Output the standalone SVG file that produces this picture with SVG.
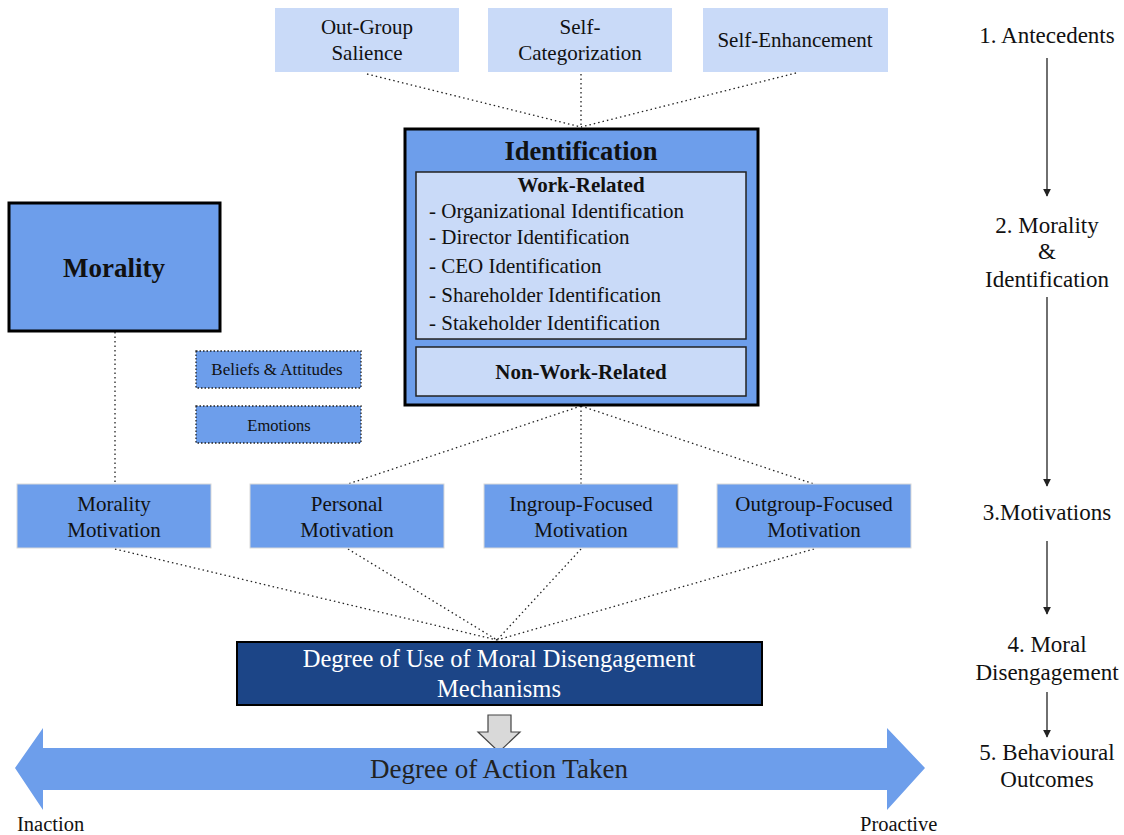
<svg xmlns="http://www.w3.org/2000/svg" width="1124" height="835" viewBox="0 0 1124 835">
<style>
text{font-family:"Liberation Serif","Times New Roman",serif;fill:#111}
.light{fill:#c9daf8}
.mid{fill:#6d9eeb}
.t19{font-size:21px;text-anchor:middle}
.t18{font-size:21px}
.b{font-weight:bold}
.dot{stroke:#222;stroke-width:1.3;stroke-dasharray:1.5 3;fill:none}
.side{font-size:23px;text-anchor:middle}
</style>
<defs>
<marker id="ah" viewBox="0 0 10 10" refX="9" refY="5" markerWidth="8" markerHeight="8" markerUnits="userSpaceOnUse" orient="auto">
<path d="M0,0 L10,5 L0,10 z" fill="#222"/>
</marker>
</defs>
<rect width="1124" height="835" fill="#fff"/>

<g id="connectors">
<path class="dot" d="M367,74 L581,127"/>
<path class="dot" d="M581,74 L581,127"/>
<path class="dot" d="M796,73 L581,127"/>
<path class="dot" d="M115,332 L115,484"/>
<path class="dot" d="M581,406 L348,484"/>
<path class="dot" d="M581,406 L581,484"/>
<path class="dot" d="M581,406 L814,484"/>
<path class="dot" d="M115,549 L497,640"/>
<path class="dot" d="M348,549 L497,640"/>
<path class="dot" d="M581,549 L497,640"/>
<path class="dot" d="M814,549 L497,640"/>
</g>

<g id="outgroup-salience">
<rect class="light" x="275" y="8" width="184" height="64"/>
<text class="t19" x="367" y="34">Out-Group</text>
<text class="t19" x="367" y="60">Salience</text>
</g>
<g id="self-categorization">
<rect class="light" x="488" y="8" width="184" height="64"/>
<text class="t19" x="580" y="34">Self-</text>
<text class="t19" x="580" y="60">Categorization</text>
</g>
<g id="self-enhancement">
<rect class="light" x="703" y="8" width="185" height="64"/>
<text class="t19" x="795" y="47">Self-Enhancement</text>
</g>

<g id="identification">
<rect class="mid" x="405" y="129" width="353" height="276" stroke="#000" stroke-width="3"/>
<text x="581" y="160" font-size="26.5" font-weight="bold" text-anchor="middle">Identification</text>
<rect class="light" x="416" y="172" width="330" height="167" stroke="#222" stroke-width="1.5"/>
<text class="t18 b" x="581" y="192" text-anchor="middle">Work-Related</text>
<text class="t18" x="429" y="218">- Organizational Identification</text>
<text class="t18" x="429" y="244">- Director Identification</text>
<text class="t18" x="429" y="273">- CEO Identification</text>
<text class="t18" x="429" y="302">- Shareholder Identification</text>
<text class="t18" x="429" y="330">- Stakeholder Identification</text>
<rect class="light" x="416" y="347" width="330" height="49" stroke="#222" stroke-width="1.5"/>
<text class="t18 b" x="581" y="379" text-anchor="middle">Non-Work-Related</text>
</g>

<g id="morality">
<rect class="mid" x="9" y="203" width="211" height="128" stroke="#000" stroke-width="3"/>
<text x="114" y="277" font-size="27" font-weight="bold" text-anchor="middle">Morality</text>
</g>

<g id="beliefs-attitudes">
<rect class="mid" x="196" y="351" width="165" height="37" stroke="#222" stroke-width="1.3" stroke-dasharray="1.5 2"/>
<text x="277" y="375" font-size="17" text-anchor="middle">Beliefs &amp; Attitudes</text>
</g>
<g id="emotions">
<rect class="mid" x="196" y="406" width="165" height="37" stroke="#222" stroke-width="1.3" stroke-dasharray="1.5 2"/>
<text x="279" y="431" font-size="16.5" text-anchor="middle">Emotions</text>
</g>

<g id="morality-motivation">
<rect class="mid" x="17" y="484" width="194" height="64" stroke="#d9d9d9" stroke-width="1"/>
<text class="t19" x="114" y="511">Morality</text>
<text class="t19" x="114" y="537">Motivation</text>
</g>
<g id="personal-motivation">
<rect class="mid" x="250" y="484" width="194" height="64" stroke="#d9d9d9" stroke-width="1"/>
<text class="t19" x="347" y="511">Personal</text>
<text class="t19" x="347" y="537">Motivation</text>
</g>
<g id="ingroup-motivation">
<rect class="mid" x="484" y="484" width="194" height="64" stroke="#d9d9d9" stroke-width="1"/>
<text class="t19" x="581" y="511">Ingroup-Focused</text>
<text class="t19" x="581" y="537">Motivation</text>
</g>
<g id="outgroup-motivation">
<rect class="mid" x="717" y="484" width="194" height="64" stroke="#d9d9d9" stroke-width="1"/>
<text class="t19" x="814" y="511">Outgroup-Focused</text>
<text class="t19" x="814" y="537">Motivation</text>
</g>

<g id="moral-disengagement">
<rect x="237" y="642" width="525" height="63" fill="#1c4587" stroke="#000" stroke-width="2"/>
<text x="499" y="667" font-size="24.5" text-anchor="middle" style="fill:#fff">Degree of Use of Moral Disengagement</text>
<text x="499" y="697" font-size="24.5" text-anchor="middle" style="fill:#fff">Mechanisms</text>
</g>

<g id="down-arrow">
<path d="M488,715 L511,715 L511,732 L520,732 L499,752 L478,732 L488,732 Z" fill="#d9d9d9" stroke="#444" stroke-width="1.2"/>
</g>

<g id="action-arrow">
<path d="M15,768 L43,728 L43,748 L887,748 L887,728 L925,768 L887,810 L887,790 L43,790 L43,810 Z" class="mid"/>
<text x="499" y="778" font-size="27" text-anchor="middle" style="fill:#222">Degree of Action Taken</text>
<text x="17" y="831" font-size="20.5">Inaction</text>
<text x="860" y="831" font-size="20.5">Proactive</text>
</g>

<g id="stages">
<text class="side" x="1047" y="43">1. Antecedents</text>
<text class="side" x="1047" y="233">2. Morality</text>
<text class="side" x="1047" y="259">&amp;</text>
<text class="side" x="1047" y="287">Identification</text>
<text class="side" x="1047" y="520">3.Motivations</text>
<text class="side" x="1047" y="652">4. Moral</text>
<text class="side" x="1047" y="680">Disengagement</text>
<text class="side" x="1047" y="760">5. Behavioural</text>
<text class="side" x="1047" y="787">Outcomes</text>
<g stroke="#222" stroke-width="1.3" fill="none" marker-end="url(#ah)">
<line x1="1047" y1="58" x2="1047" y2="196"/>
<line x1="1047" y1="297" x2="1047" y2="486"/>
<line x1="1047" y1="541" x2="1047" y2="614"/>
<line x1="1047" y1="692" x2="1047" y2="737"/>
</g>
</g>
</svg>
